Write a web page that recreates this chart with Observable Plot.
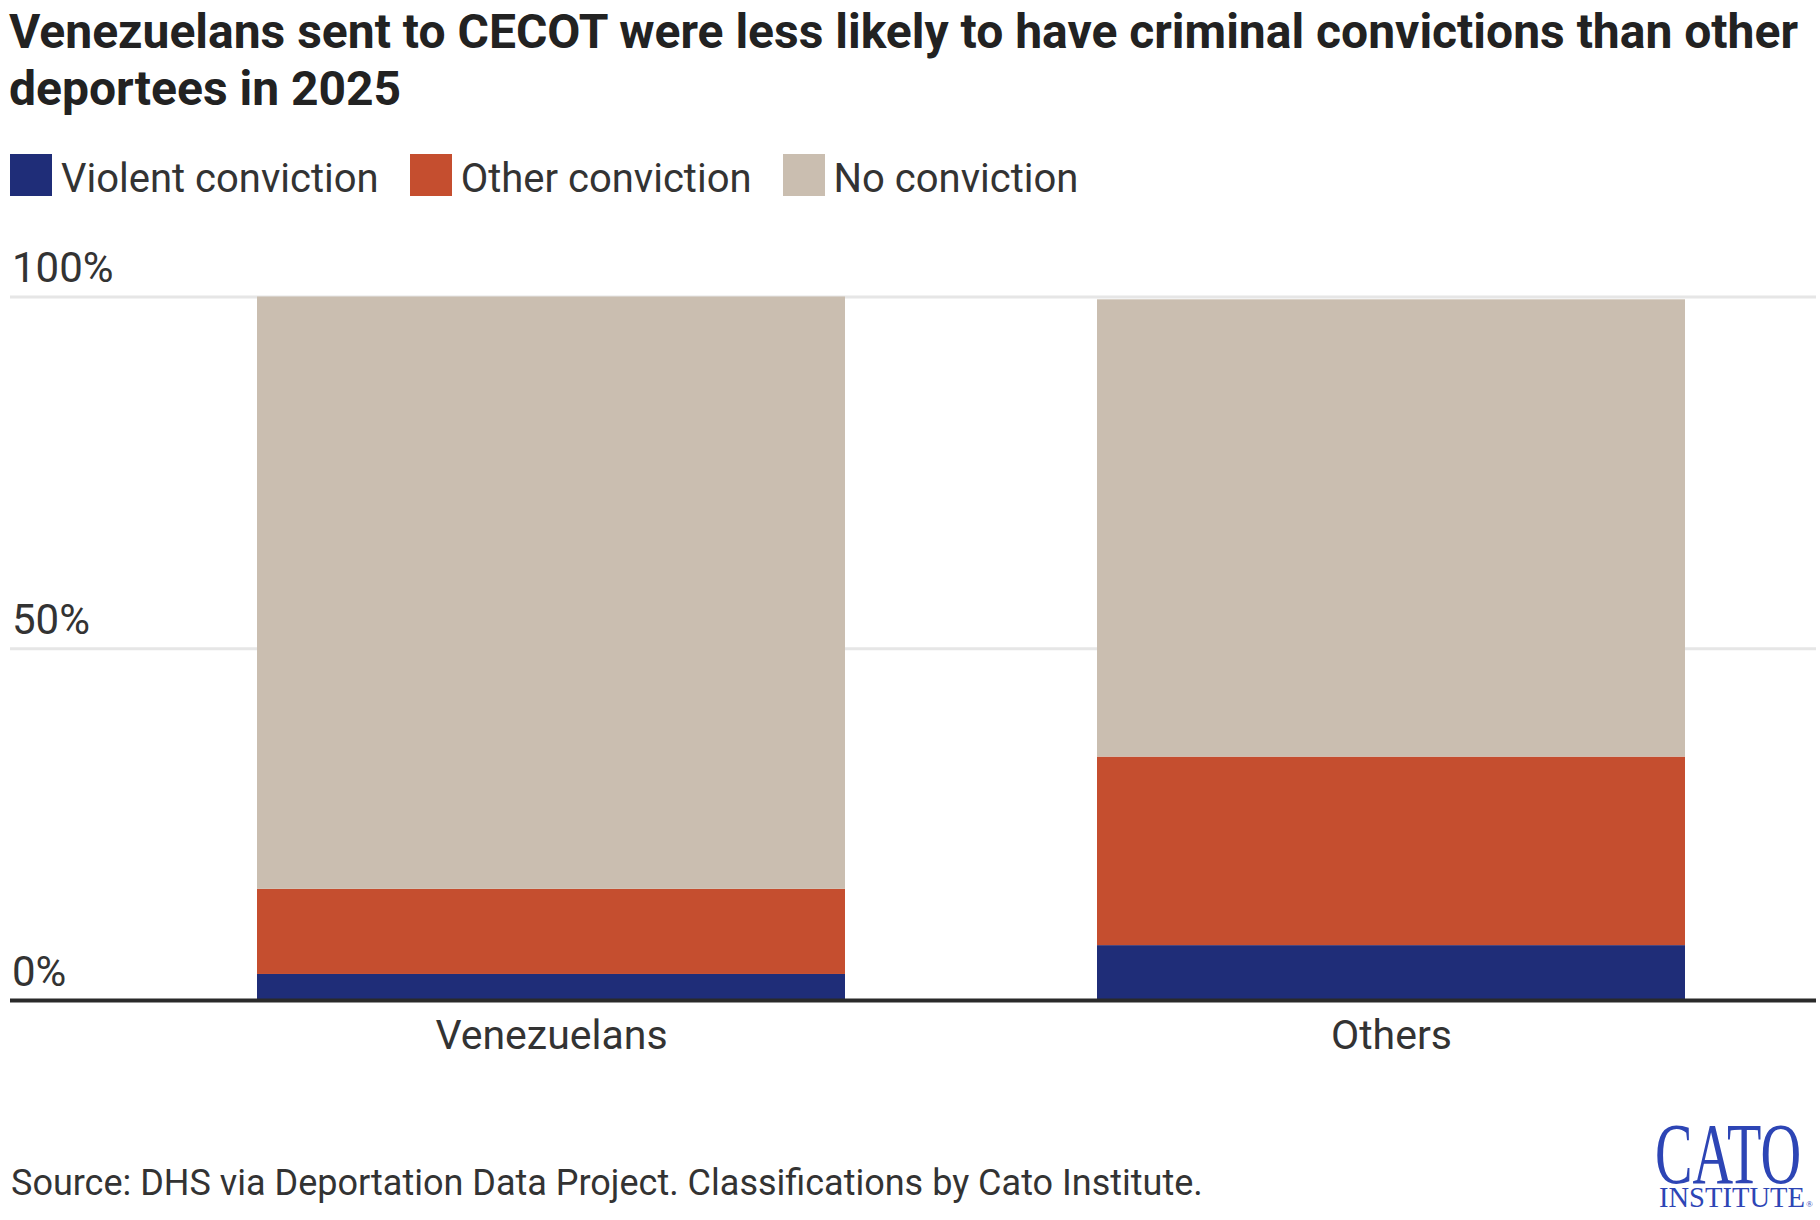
<!DOCTYPE html>
<html>
<head>
<meta charset="utf-8">
<script src="https://cdn.jsdelivr.net/npm/d3@7"></script>
<script src="https://cdn.jsdelivr.net/npm/@observablehq/plot@0.6"></script>
<style>
  body { margin: 0; background: #fff; font-family: Roboto, "Liberation Sans", sans-serif; }
  #wrap { position: relative; width: 1820px; height: 1220px; overflow: hidden; background: #fff; }
  #title { position: absolute; left: 9px; top: 3px; font-size: 48px; font-weight: 700; line-height: 57px; color: #222; white-space: nowrap; }
  #legend { position: absolute; left: 10px; top: 154px; height: 42px; display: flex; align-items: center; }
  .item { display: flex; align-items: center; margin-right: 31px; }
  .sw { width: 42px; height: 42px; margin-right: 9px; }
  .lab { font-size: 40px; line-height: 42px; color: #333; position: relative; top: 4px; white-space: nowrap; }
  #chart { position: absolute; left: 0; top: 220px; }
  #source { position: absolute; left: 11px; top: 1161px; font-size: 36px; line-height: 44px; color: #333; white-space: nowrap; }
  #logo { position: absolute; left: 1640px; top: 1090px; }
</style>
</head>
<body>
<div id="wrap">
  <div id="title">Venezuelans sent to CECOT were less likely to have criminal convictions than other<br>deportees in 2025</div>
  <div id="legend"></div>
  <div id="chart"></div>
  <div id="source">Source: DHS via Deportation Data Project. Classifications by Cato Institute.</div>
  <svg id="logo" width="180" height="130" viewBox="1640 1090 180 130" style="pointer-events:none">
    <text transform="translate(1655,1183) scale(0.655,1)" font-family="Liberation Serif, DejaVu Serif, serif" font-size="86" fill="#2d45b5">CATO</text>
    <text transform="translate(1659,1207) scale(0.985,1)" font-family="Liberation Serif, DejaVu Serif, serif" font-size="29" fill="#2d45b5">INSTITUTE</text>
    <text x="1806" y="1207" font-family="Liberation Serif, DejaVu Serif, serif" font-size="9" fill="#2d45b5">®</text>
  </svg>
</div>
<script>
const groups = ["Venezuelans", "Others"];
const categories = ["Violent conviction", "Other conviction", "No conviction"];
const violent = [3.7, 7.8];
const otherConviction = [12.1, 26.8];
const noConviction = [84.2, 65.0];
const yTicks = [0, 50, 100];
const colors = ["#1f2d78", "#c54e2f", "#cabeb0"];

const series = [violent, otherConviction, noConviction];
const rows = groups.flatMap((g, i) =>
  categories.map((c, j) => ({group: g, category: c, value: series[j][i]}))
);

// legend
const legend = document.getElementById("legend");
categories.forEach((c, j) => {
  const it = document.createElement("div");
  it.className = "item";
  const sw = document.createElement("div");
  sw.className = "sw";
  sw.style.background = colors[j];
  const lab = document.createElement("span");
  lab.className = "lab";
  lab.textContent = c;
  it.append(sw, lab);
  legend.append(it);
});

const chart = Plot.plot({
  width: 1820,
  height: 880,
  marginLeft: 10,
  marginRight: 4,
  marginTop: 76.5,
  marginBottom: 100,
  style: {fontFamily: "Roboto, 'Liberation Sans', sans-serif", background: "transparent"},
  x: {domain: groups, range: [130.5, 1810.5], paddingInner: 0.3, paddingOuter: 0.15},
  y: {domain: [0, 100], axis: null},
  color: {domain: categories, range: colors},
  marks: [
    Plot.ruleY([50, 100], {stroke: "#e6e6e6", strokeWidth: 3}),
    Plot.barY(rows, {x: "group", y: "value", fill: "category", order: categories}),
    Plot.ruleY([0], {stroke: "#2a2a2a", strokeWidth: 4}),
    Plot.text(yTicks, {y: d => d, text: d => d + "%", frameAnchor: "left", textAnchor: "start", lineAnchor: "bottom", dx: 1.5, dy: -15, fontSize: 42, fill: "#333"}),
    Plot.axisX({tickSize: 0, tickPadding: 19, fontSize: 41, fill: "#333", label: null})
  ]
});
document.getElementById("chart").append(chart);
</script>
</body>
</html>
